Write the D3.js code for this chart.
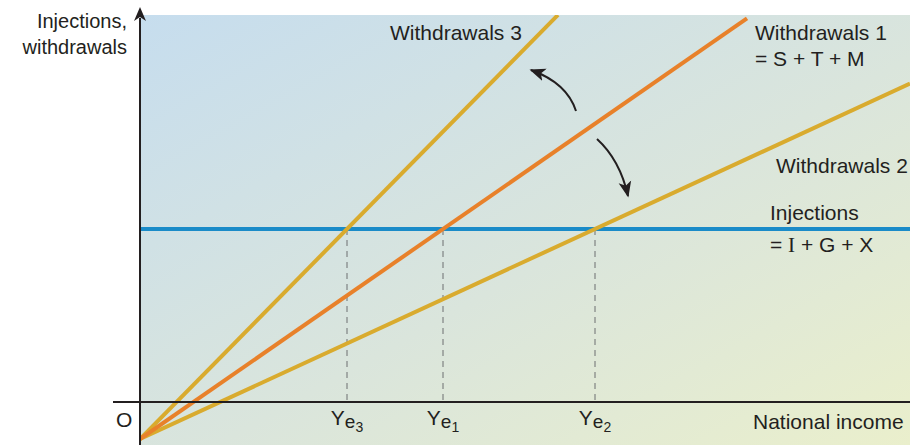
<!DOCTYPE html>
<html>
<head>
<meta charset="utf-8">
<script src="https://cdn.jsdelivr.net/npm/d3@7"></script>
<style>
  body { margin: 0; background: #fff; }
  svg { display: block; }
  text { font-family: "Liberation Sans", Arial, sans-serif; fill: #231f20; }
</style>
</head>
<body>
<svg id="chart" width="910" height="445"></svg>
<script>
// Leakages-injections model: withdrawals rise with national income, injections are fixed.
const injections = 17.3;            // I + G + X
const autonomousWithdrawals = -3.7; // withdrawal lines all start below the origin
const lineNames = ["Withdrawals 1", "Withdrawals 3", "Withdrawals 2"];
const equilibriumIncome = [30.3, 20.7, 45.5];   // Ye1, Ye3, Ye2
const lineEndIncome = [60.7, 41.8, 77];
const lineColors = ["#e8812a", "#d9ab2e", "#d9ab2e"];
const tickNames = ["1", "3", "2"];

const W = 910, H = 445;
const svg = d3.select("#chart");

const x = d3.scaleLinear().domain([0, 77]).range([140, 910]);
const y = d3.scaleLinear().domain([0, 38.7]).range([402, 15]);

// background panel with diagonal gradient
const defs = svg.append("defs");
const grad = defs.append("linearGradient").attr("id", "bg")
  .attr("x1", "0%").attr("y1", "0%").attr("x2", "100%").attr("y2", "100%");
grad.append("stop").attr("offset", "0%").attr("stop-color", "#c6ddee");
grad.append("stop").attr("offset", "55%").attr("stop-color", "#dae5dc");
grad.append("stop").attr("offset", "100%").attr("stop-color", "#eaefcc");

defs.append("clipPath").attr("id", "panel").append("rect")
  .attr("x", x(0)).attr("y", y.range()[1]).attr("width", W - x(0)).attr("height", H - y.range()[1]);

defs.append("marker").attr("id", "head").attr("viewBox", "0 0 10 10")
  .attr("refX", 9).attr("refY", 5)
  .attr("orient", "auto").attr("markerUnits", "userSpaceOnUse")
  .attr("markerWidth", 16).attr("markerHeight", 16)
  .append("path").attr("d", "M0,1 L10,5 L0,9 L2.5,5 Z").attr("fill", "#231f20");

svg.append("rect")
  .attr("x", x(0)).attr("y", y.range()[1])
  .attr("width", W - x(0)).attr("height", H - y.range()[1])
  .attr("fill", "url(#bg)");

const plot = svg.append("g").attr("clip-path", "url(#panel)");

const slope = i => (injections - autonomousWithdrawals) / equilibriumIncome[i];
const wAt = (i, v) => autonomousWithdrawals + slope(i) * v;

// dashed drop lines from each equilibrium to the income axis
equilibriumIncome.forEach(v => {
  plot.append("line")
    .attr("x1", x(v)).attr("x2", x(v))
    .attr("y1", y(injections)).attr("y2", y(0))
    .attr("stroke", "#6d6e70").attr("stroke-width", 1)
    .attr("stroke-dasharray", "6,5");
});

// injections line
plot.append("line")
  .attr("x1", x(0)).attr("x2", x(77))
  .attr("y1", y(injections)).attr("y2", y(injections))
  .attr("stroke", "#1a8bc8").attr("stroke-width", 4);

// withdrawal schedules
const lineGen = d3.line().x(d => x(d[0])).y(d => y(d[1]));
[1, 2, 0].forEach(i => {
  plot.append("path")
    .attr("d", lineGen([[0, autonomousWithdrawals], [lineEndIncome[i], wAt(i, lineEndIncome[i])]]))
    .attr("fill", "none").attr("stroke", lineColors[i])
    .attr("stroke-width", 4);
});

// axes
svg.append("line").attr("x1", 113).attr("x2", W).attr("y1", y(0)).attr("y2", y(0))
  .attr("stroke", "#231f20").attr("stroke-width", 2);
svg.append("line").attr("x1", x(0)).attr("x2", x(0)).attr("y1", H).attr("y2", 18)
  .attr("stroke", "#231f20").attr("stroke-width", 2);
svg.append("path").attr("d", `M${x(0)},7 L${x(0) - 6},21 L${x(0)},17 L${x(0) + 6},21 Z`)
  .attr("fill", "#231f20");

// curved arrows showing the shift of the withdrawals line
svg.append("path").attr("d", "M576,111 Q567,83 531,70")
  .attr("fill", "none").attr("stroke", "#231f20").attr("stroke-width", 2)
  .attr("marker-end", "url(#head)");
svg.append("path").attr("d", "M597,139 Q620,160 628,196")
  .attr("fill", "none").attr("stroke", "#231f20").attr("stroke-width", 2)
  .attr("marker-end", "url(#head)");

const fs = 21;
// axis titles
const yt = svg.append("text").attr("text-anchor", "end").attr("font-size", 20);
yt.append("tspan").attr("x", 127).attr("y", 28).text("Injections,");
yt.append("tspan").attr("x", 127).attr("y", 54).text("withdrawals");

svg.append("text").attr("x", 753).attr("y", 429).attr("font-size", fs).text("National income");
svg.append("text").attr("x", 116).attr("y", 427).attr("font-size", fs).text("O");

// equilibrium income labels
equilibriumIncome.forEach((v, i) => {
  const t = svg.append("text").attr("x", x(v)).attr("y", 425)
    .attr("text-anchor", "middle").attr("font-size", fs);
  t.append("tspan").text("Y");
  t.append("tspan").attr("dy", 3).attr("font-size", 19).text("e");
  t.append("tspan").attr("dy", 4).attr("font-size", 14).text(tickNames[i]);
});

// line labels
svg.append("text").attr("x", 390).attr("y", 40).attr("font-size", fs).text(lineNames[1]);
svg.append("text").attr("x", 755).attr("y", 40).attr("font-size", fs).text(lineNames[0]);
svg.append("text").attr("x", 755).attr("y", 66).attr("font-size", fs).text("= S + T + M");
svg.append("text").attr("x", 776).attr("y", 173).attr("font-size", fs).text(lineNames[2]);
svg.append("text").attr("x", 770).attr("y", 220).attr("font-size", fs).text("Injections");
const inj = svg.append("text").attr("x", 770).attr("y", 252).attr("font-size", fs);
inj.append("tspan").text("= ");
inj.append("tspan").attr("font-family", "Liberation Serif, serif").text("I");
inj.append("tspan").text(" + G + X");
</script>
</body>
</html>
